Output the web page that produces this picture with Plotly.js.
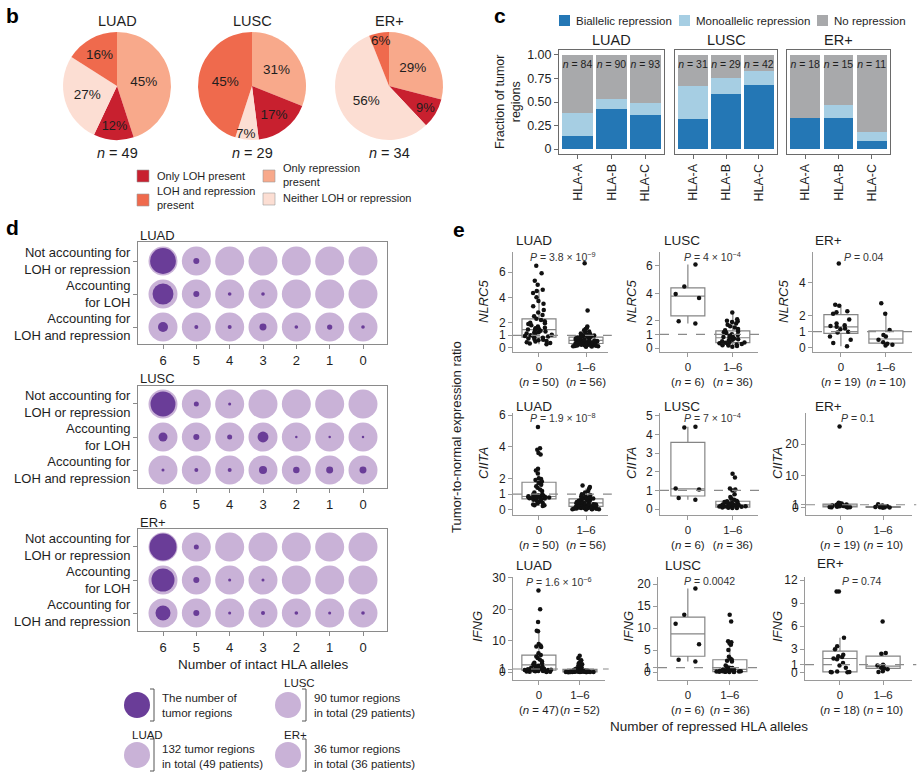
<!DOCTYPE html>
<html><head><meta charset="utf-8">
<script src="https://cdn.plot.ly/plotly-3.0.1.min.js"></script>
<style>body{margin:0;background:#fff}#chart{width:921px;height:775px}</style>
</head><body><div id="chart"></div>
<script>
// ================= DATA =================
// panel b : pies
const pieLabels = ['Only repression present','Only LOH present','Neither LOH or repression','LOH and repression present'];
const pieCohorts = ['LUAD','LUSC','ER+'];
const pieLUAD = [45,12,27,16];
const pieLUSC = [31,17,7,45];
const pieER = [29,9,56,6];
const piePatients = [49,29,34];

// panel c : stacked bars
const hlaGenes = ['HLA-A','HLA-B','HLA-C'];
const barLUAD_bi = [0.14,0.43,0.36], barLUAD_mono = [0.24,0.10,0.13], barLUAD_no = [0.62,0.47,0.51], barLUAD_n = [84,90,93];
const barLUSC_bi = [0.32,0.58,0.68], barLUSC_mono = [0.35,0.17,0.15], barLUSC_no = [0.33,0.25,0.17], barLUSC_n = [31,29,42];
const barER_bi = [0.33,0.33,0.09], barER_mono = [0.00,0.14,0.09], barER_no = [0.67,0.53,0.82], barER_n = [18,15,11];

// panel d : % of tumor regions per number of intact HLA alleles
const dotCols = ['6','5','4','3','2','1','0'];
const dotRows = ['Not accounting for<br>LOH or repression','Accounting<br>for LOH','Accounting for<br>LOH and repression'];
const dotLUAD_not = [79,4.3,0,0,0,0,0], dotLUAD_loh = [52,4.3,1.6,1.6,0,0,0], dotLUAD_both = [12,1.9,1.9,5.8,1.6,3.3,1.6];
const dotLUSC_not = [74,3,1.1,0,0,0,0], dotLUSC_loh = [9.6,4.3,3,14,0.75,0.75,0.75], dotLUSC_both = [1.1,1.9,1.9,7.6,5,5.8,5.8];
const dotER_not = [87,3,0,0,0,0,0], dotER_loh = [63,4.3,1.1,1.1,0,0,0], dotER_both = [27,4.3,1.1,1.9,1.6,1.1,1.6];

// panel e : tumor-to-normal expression ratios
const groups = ['0','1–6'];
const nlrc5_LUAD_0 = [6.5,5.9,5.3,5.0,4.6,4.5,4.35,4.0,3.7,3.5,3.3,3.0,2.8,2.6,2.5,2.3,2.2,2.1,2.0,1.95,1.9,1.8,1.7,1.6,1.55,1.5,1.45,1.4,1.35,1.3,1.25,1.2,1.15,1.1,1.05,1.0,0.95,0.9,0.85,0.8,0.75,0.7,0.65,0.6,0.55,0.5,0.45,0.4,0.35,0.3];
const nlrc5_LUAD_1 = [6.7,2.95,1.7,1.6,1.5,1.4,1.3,1.2,1.15,1.1,1.05,1.0,0.98,0.95,0.92,0.9,0.88,0.85,0.82,0.8,0.78,0.75,0.72,0.7,0.68,0.66,0.64,0.62,0.6,0.58,0.56,0.54,0.52,0.5,0.48,0.46,0.44,0.42,0.4,0.38,0.36,0.34,0.32,0.3,0.28,0.26,0.24,0.22,0.2,0.18,0.16,0.15,0.14,0.13,0.12,0.1];
const nlrc5_LUSC_0 = [6.1,4.5,3.95,3.65,1.95,1.8];
const nlrc5_LUSC_1 = [2.6,2.1,2.0,1.95,1.9,1.8,1.7,1.6,1.5,1.4,1.3,1.2,1.15,1.1,1.0,0.95,0.9,0.85,0.8,0.75,0.7,0.65,0.6,0.55,0.5,0.45,0.4,0.38,0.35,0.3,0.28,0.25,0.2,0.18,0.15,0.1];
const nlrc5_ER_0 = [5.2,2.65,2.6,2.25,2.2,2.1,1.75,1.5,1.4,1.35,1.3,1.2,1.15,1.0,0.95,0.7,0.5,0.3,0.1];
const nlrc5_ER_1 = [2.75,2.1,1.1,0.8,0.7,0.5,0.35,0.25,0.2,0.15];
const ciita_LUAD_0 = [5.25,3.9,3.8,3.6,3.5,2.6,2.5,2.3,2.0,1.95,1.9,1.8,1.7,1.6,1.5,1.4,1.3,1.2,1.1,1.0,0.98,0.95,0.93,0.9,0.9,0.88,0.87,0.86,0.85,0.84,0.83,0.82,0.8,0.8,0.78,0.76,0.74,0.72,0.7,0.68,0.65,0.6,0.55,0.5,0.45,0.4,0.35,0.3,0.3,0.25];
const ciita_LUAD_1 = [1.55,1.45,1.35,1.2,1.1,1.0,0.95,0.9,0.85,0.8,0.78,0.75,0.72,0.7,0.68,0.65,0.62,0.6,0.58,0.55,0.52,0.5,0.48,0.46,0.45,0.44,0.42,0.4,0.38,0.36,0.35,0.34,0.32,0.3,0.28,0.26,0.25,0.24,0.22,0.2,0.19,0.18,0.16,0.15,0.14,0.12,0.11,0.1,0.09,0.08,0.07,0.06,0.05,0.05,0.04,0.03];
const ciita_LUSC_0 = [4.42,4.38,1.1,1.05,0.6,0.5];
const ciita_LUSC_1 = [1.9,1.7,1.1,1.05,1.0,0.8,0.65,0.55,0.5,0.45,0.42,0.4,0.38,0.35,0.32,0.3,0.28,0.26,0.25,0.24,0.22,0.21,0.2,0.19,0.18,0.17,0.15,0.14,0.13,0.12,0.11,0.1,0.08,0.07,0.06,0.05];
const ciita_ER_0 = [25.5,1.6,1.5,1.4,1.3,1.2,1.1,1.0,0.9,0.8,0.7,0.6,0.5,0.4,0.35,0.3,0.25,0.2,0.15];
const ciita_ER_1 = [1.2,0.8,0.5,0.4,0.35,0.3,0.25,0.2,0.15,0.1];
const ifng_LUAD_0 = [26,20,16,13.2,13,9,8.5,8.2,8,6,5.5,5,4.5,4,3.5,3,2.8,2.5,2.2,2,1.8,1.6,1.4,1.2,1.0,0.9,0.8,0.7,0.6,0.5,0.45,0.4,0.35,0.3,0.25,0.2,0.15,0.1,1.1,1.3,1.5,0.55,0.65,0.75,0.85,0.95,0.05];
const ifng_LUAD_1 = [5.2,4.5,3.8,3.2,2.8,2.5,2.2,2.0,1.8,1.6,1.4,1.2,1.1,1.0,0.9,0.85,0.8,0.75,0.7,0.65,0.6,0.55,0.5,0.45,0.42,0.4,0.38,0.35,0.32,0.3,0.28,0.25,0.22,0.2,0.18,0.16,0.15,0.14,0.12,0.1,0.09,0.08,0.07,0.06,0.05,0.04,0.03,0.02,0.02,0.01,0.01,0.0];
const ifng_LUSC_0 = [19,13,11,6.3,2.8,2.4];
const ifng_LUSC_1 = [13,11.5,7,6.8,6.5,6.2,5,3.5,3.0,2.8,2.6,2.4,1.5,1.2,1.0,0.9,0.8,0.7,0.6,0.55,0.5,0.45,0.4,0.35,0.3,0.25,0.2,0.18,0.15,0.12,0.1,0.08,0.06,0.05,0.03,0.02];
const ifng_ER_0 = [10.5,10.5,4.5,3.4,3.0,2.3,2.1,2.0,1.8,1.7,1.2,0.9,0.6,0.1,0.05,0.05,0.02,0.0];
const ifng_ER_1 = [6.6,2.5,2.4,1.0,0.9,0.6,0.5,0.4,0.15,0.05];
// box statistics per group: [lower whisker, q1, median, q3, upper whisker]
const nlrc5_LUAD_box = [[0.3,0.85,1.45,2.3,4.6],[0.1,0.35,0.6,0.85,1.55]];
const nlrc5_LUSC_box = [[1.8,2.35,3.8,4.4,6.1],[0.1,0.4,0.75,1.25,2.6]];
const nlrc5_ER_box = [[0.1,0.9,1.3,2.05,2.65],[0.15,0.3,0.55,1.05,2.1]];
const ciita_LUAD_box = [[0.25,0.7,0.85,1.75,2.6],[0.03,0.22,0.45,0.7,1.35]];
const ciita_LUSC_box = [[0.5,0.7,1.08,3.58,4.42],[0.05,0.1,0.22,0.42,0.8]];
const ciita_ER_box = [[0.15,0.3,0.6,1.2,1.6],[0.1,0.15,0.3,0.4,0.5]];
const ifng_LUAD_box = [[0.05,0.6,2.3,5.4,13],[0,0.1,0.4,0.9,2.0]];
const ifng_LUSC_box = [[2.4,3.6,8.7,12.5,19],[0.02,0.1,0.6,2.8,6.5]];
const ifng_ER_box = [[0,0.05,1.8,2.75,4.5],[0.05,0.5,0.8,2.1,2.5]];
const nNLRC5 = [[50,56],[6,36],[19,10]];
const nCIITA = [[50,56],[6,36],[19,10]];
const nIFNG = [[47,52],[6,36],[18,10]];

// ================= BUILD =================
const W = 921, H = 775;
const X = px => px / W, Y = py => 1 - py / H;
const FONT = 'Liberation Sans, Arial, Helvetica, sans-serif';
const TXT = '#1e1e1e';
const traces = [], annotations = [], shapes = [];
const layout = {
  width: W, height: H, margin: {l:0,r:0,t:0,b:0},
  paper_bgcolor: '#fff', plot_bgcolor: 'rgba(0,0,0,0)',
  font: {family: FONT, size: 12, color: TXT},
  showlegend: false, barmode: 'stack', bargap: 0.1, boxmode: 'overlay',
  annotations, shapes
};
const ax = i => (i === 1 ? '' : String(i));
function setAxes(i, xa, ya) {
  layout['xaxis' + ax(i)] = Object.assign({anchor: 'y' + ax(i), fixedrange: true, showgrid: false, zeroline: false}, xa);
  layout['yaxis' + ax(i)] = Object.assign({anchor: 'x' + ax(i), fixedrange: true, showgrid: false, zeroline: false}, ya);
}
function ann(text, px, py, o) {
  o = o || {};
  const f = Object.assign({size: 12, color: TXT, family: FONT}, o.font || {});
  annotations.push(Object.assign({text, x: X(px), y: Y(py), xref: 'paper', yref: 'paper', showarrow: false,
    xanchor: 'center', yanchor: 'middle', align: 'center'}, o, {font: f}));
}
function rect(x0, y0, x1, y1, color, line) {
  shapes.push({type: 'rect', xref: 'paper', yref: 'paper', x0: X(x0), x1: X(x1), y0: Y(y1), y1: Y(y0),
    fillcolor: color, line: line || {width: 0}});
}

// panel letters
ann('<b>b</b>', 12, 16, {font: {size: 21, color: '#000'}});
ann('<b>c</b>', 500, 16, {font: {size: 21, color: '#000'}});
ann('<b>d</b>', 12, 227, {font: {size: 21, color: '#000'}});
ann('<b>e</b>', 459, 230, {font: {size: 21, color: '#000'}});

// ---------- panel b ----------
const pieColors = ['#F8A98B','#C8202F','#FCDED3','#EF6A4D'];
const pieVals = [pieLUAD, pieLUSC, pieER];
const pieCx = [117, 252, 389];
// small slices get their label placed by hand (as in the original figure)
const pieSmallLabel = [null, {slice: 2, x: 246, y: 133}, {slice: 3, x: 381, y: 40}];
pieVals.forEach((v, k) => {
  const sm = pieSmallLabel[k];
  traces.push({type: 'pie', values: v, labels: pieLabels, sort: false, direction: 'clockwise', rotation: 0,
    marker: {colors: pieColors, line: {width: 0}},
    text: v.map((x, j) => (sm && sm.slice === j) ? '' : x + '%'), textinfo: 'text', textposition: 'inside',
    insidetextorientation: 'horizontal', textfont: {size: 13.5, color: TXT, family: FONT},
    domain: {x: [X(pieCx[k] - 54), X(pieCx[k] + 54)], y: [Y(140), Y(32)]}, hoverinfo: 'skip', showlegend: false});
  if (sm) ann(v[sm.slice] + '%', sm.x, sm.y, {font: {size: 13.5}});
  ann(pieCohorts[k], pieCx[k], 21, {font: {size: 14.5}});
  ann('<i>n</i> = ' + piePatients[k], pieCx[k], 153, {font: {size: 14.5}});
});
const pieLeg = [
  [1, 137, 170, 'Only LOH present', 176],
  [3, 137, 194, 'LOH and repression<br>present', 198],
  [0, 263, 170, 'Only repression<br>present', 175],
  [2, 263, 193, 'Neither LOH or repression', 198]
];
pieLeg.forEach(l => {
  rect(l[1], l[2], l[1] + 12, l[2] + 12, pieColors[l[0]], {width: 0.6, color: '#9a9a9a'});
  ann(l[3], l[1] + 18, l[4], {xanchor: 'left', align: 'left', font: {size: 11}});
});

// ---------- panel c ----------
const barCols = {bi: '#2477B5', mono: '#A6CEE3', no: '#A8A9AB'};
const barSets = [
  [barLUAD_bi, barLUAD_mono, barLUAD_no, barLUAD_n, 559, 664, 'LUAD'],
  [barLUSC_bi, barLUSC_mono, barLUSC_no, barLUSC_n, 675, 777, 'LUSC'],
  [barER_bi, barER_mono, barER_no, barER_n, 787, 890, 'ER+']
];
barSets.forEach((s, k) => {
  const i = k + 1, xs = 'x' + ax(i), ys = 'y' + ax(i);
  setAxes(i,
    {domain: [X(s[4]), X(s[5])], type: 'category', categoryarray: hlaGenes, range: [-0.55, 2.55],
      showline: true, mirror: true, linecolor: '#6a6a6a', linewidth: 1, ticks: 'outside', ticklen: 4,
      tickcolor: '#6a6a6a', tickangle: -90, tickfont: {size: 12.5}},
    {domain: [Y(154), Y(50)], range: [-0.053, 1.053], showline: true, mirror: true, linecolor: '#6a6a6a',
      linewidth: 1, ticks: k === 0 ? 'outside' : '', ticklen: 4, tickcolor: '#6a6a6a',
      showticklabels: k === 0, tickmode: 'array', tickvals: [0, 0.25, 0.5, 0.75, 1],
      ticktext: ['0', '0.25', '0.50', '0.75', '1.00'], tickfont: {size: 12.5}});
  traces.push({type: 'bar', x: hlaGenes, y: s[0], xaxis: xs, yaxis: ys, marker: {color: barCols.bi, line: {width: 0}}, hoverinfo: 'skip'});
  traces.push({type: 'bar', x: hlaGenes, y: s[1], xaxis: xs, yaxis: ys, marker: {color: barCols.mono, line: {width: 0}}, hoverinfo: 'skip'});
  traces.push({type: 'bar', x: hlaGenes, y: s[2], xaxis: xs, yaxis: ys, marker: {color: barCols.no, line: {width: 0}},
    text: s[3].map(n => '<i>n</i> = ' + n), textposition: 'inside', insidetextanchor: 'end', constraintext: 'none',
    textangle: 0, textfont: {size: 10.5, color: TXT, family: FONT}, hoverinfo: 'skip'});
  ann(s[6], (s[4] + s[5]) / 2, 40, {font: {size: 14.5}});
});
ann('Fraction of tumor<br>regions', 508, 102, {textangle: -90, font: {size: 12.5}});
[[559, 'Biallelic repression', barCols.bi], [679, 'Monoallelic repression', barCols.mono], [817, 'No repression', barCols.no]]
  .forEach(l => { rect(l[0], 15, l[0] + 11, 26, l[2]); ann(l[1], l[0] + 15, 20.5, {xanchor: 'left', font: {size: 11.5}}); });

// ---------- panel d ----------
const BG = 29;
const dotSets = [
  [[dotLUAD_not, dotLUAD_loh, dotLUAD_both], 242, 344, [2.515, -0.576], 'LUAD', 235],
  [[dotLUSC_not, dotLUSC_loh, dotLUSC_both], 386, 488, [2.545, -0.545], 'LUSC', 378],
  [[dotER_not, dotER_loh, dotER_both], 529, 631, [2.545, -0.545], 'ER+', 522]
];
dotSets.forEach((s, k) => {
  const i = k + 4, xs = 'x' + ax(i), ys = 'y' + ax(i);
  setAxes(i,
    {domain: [X(138), X(387)], type: 'category', categoryarray: dotCols, range: [-0.75, 6.72], showline: true, mirror: true,
      linecolor: '#8a8a8a', linewidth: 1, ticks: 'outside', ticklen: 4, tickcolor: '#8a8a8a', tickfont: {size: 13}},
    {domain: [Y(s[2]), Y(s[1])], type: 'category', categoryarray: dotRows, range: s[3], showline: true, mirror: true,
      linecolor: '#8a8a8a', linewidth: 1, ticks: 'outside', ticklen: 4, tickcolor: '#8a8a8a', tickfont: {size: 13}});
  const xsArr = [], ysArr = [], sz = [];
  s[0].forEach((row, r) => row.forEach((v, c) => { xsArr.push(dotCols[c]); ysArr.push(dotRows[r]); sz.push(BG * Math.sqrt(v / 100)); }));
  traces.push({type: 'scatter', mode: 'markers', x: xsArr, y: ysArr, xaxis: xs, yaxis: ys,
    marker: {size: BG, color: '#C9B2D7', opacity: 1, line: {width: 0}}, hoverinfo: 'skip'});
  traces.push({type: 'scatter', mode: 'markers', x: xsArr, y: ysArr, xaxis: xs, yaxis: ys,
    marker: {size: sz, sizemode: 'diameter', color: '#6A3D98', opacity: 1, line: {width: 0}}, hoverinfo: 'skip'});
  ann(s[4], 138, s[5], {xanchor: 'left', font: {size: 13}});
});
ann('Number of intact HLA alleles', 263, 664, {font: {size: 13.5}});
// legend of panel d
shapes.push({type: 'circle', xref: 'paper', yref: 'paper', x0: X(124), x1: X(150), y0: Y(718), y1: Y(692), fillcolor: '#6A3D98', line: {width: 0}});
[[137, 755], [288, 705], [288, 755]].forEach(c => shapes.push({type: 'circle', xref: 'paper', yref: 'paper',
  x0: X(c[0] - 13), x1: X(c[0] + 13), y0: Y(c[1] + 13), y1: Y(c[1] - 13), fillcolor: '#C9B2D7', line: {width: 0}}));
[[154, 705], [154, 755], [306, 705], [306, 755]].forEach(b => shapes.push({type: 'path', xref: 'paper', yref: 'paper',
  path: `M ${X(b[0] - 4)},${Y(b[1] - 16)} L ${X(b[0])},${Y(b[1] - 16)} L ${X(b[0])},${Y(b[1] + 16)} L ${X(b[0] - 4)},${Y(b[1] + 16)}`,
  line: {color: '#555', width: 1}}));
ann('The number of<br>tumor regions', 160, 705, {xanchor: 'left', align: 'left', font: {size: 11.5}});
ann('132 tumor regions<br>in total (49 patients)', 160, 756, {xanchor: 'left', align: 'left', font: {size: 11.5}});
ann('90 tumor regions<br>in total (29 patients)', 312, 705, {xanchor: 'left', align: 'left', font: {size: 11.5}});
ann('36 tumor regions<br>in total (36 patients)', 312, 756, {xanchor: 'left', align: 'left', font: {size: 11.5}});
ann('LUAD', 130, 735, {xanchor: 'left', font: {size: 11.5}});
ann('LUSC', 282, 683, {xanchor: 'left', font: {size: 11.5}});
ann('ER+', 282, 735, {xanchor: 'left', font: {size: 11.5}});

// ---------- panel e ----------
const ePanels = [
  {gene:'NLRC5', co:'LUAD', v0:nlrc5_LUAD_0, v1:nlrc5_LUAD_1, box:nlrc5_LUAD_box, n:nNLRC5[0], p:'3.8 × 10<sup>−9</sup>', ticks:[0,1,2,4,6],
   xd:[513,608], yd:[252,352], yr:[-0.32,7.58], xr:[-0.553,1.468], sp:47, lx:483, ly:302, tx:514, ty:240, px:563, py:257},
  {gene:'NLRC5', co:'LUSC', v0:nlrc5_LUSC_0, v1:nlrc5_LUSC_1, box:nlrc5_LUSC_box, n:nNLRC5[1], p:'4 × 10<sup>−4</sup>', ticks:[0,1,2,4,6],
   xd:[660,758], yd:[252,352], yr:[-0.29,7.02], xr:[-0.62,1.56], sp:45, lx:631, ly:302, tx:662, ty:240, px:712, py:257},
  {gene:'NLRC5', co:'ER+', v0:nlrc5_ER_0, v1:nlrc5_ER_1, box:nlrc5_ER_box, n:nNLRC5[2], p:'0.04', ticks:[0,1,2,4],
   xd:[813,912], yd:[252,352], yr:[-0.25,5.9], xr:[-0.62,1.58], sp:45, lx:783, ly:302, tx:813, ty:240, px:864, py:257},
  {gene:'CIITA', co:'LUAD', v0:ciita_LUAD_0, v1:ciita_LUAD_1, box:ciita_LUAD_box, n:nCIITA[0], p:'1.9 × 10<sup>−8</sup>', ticks:[0,1,2,4,6],
   xd:[513,608], yd:[413,515], yr:[-0.32,6.13], xr:[-0.553,1.468], sp:47, lx:483, ly:463, tx:514, ty:406, px:563, py:418},
  {gene:'CIITA', co:'LUSC', v0:ciita_LUSC_0, v1:ciita_LUSC_1, box:ciita_LUSC_box, n:nCIITA[1], p:'7 × 10<sup>−4</sup>', ticks:[0,1,2,3,4,5],
   xd:[660,758], yd:[413,515], yr:[-0.32,5.16], xr:[-0.62,1.56], sp:45, lx:631, ly:463, tx:662, ty:406, px:712, py:418},
  {gene:'CIITA', co:'ER+', v0:ciita_ER_0, v1:ciita_ER_1, box:ciita_ER_box, n:nCIITA[2], p:'0.1', ticks:[0,1,10,20],
   xd:[806,912], yd:[413,515], yr:[-2.2,29.7], xr:[-0.79,1.67], sp:43, lx:777, ly:463, tx:813, ty:406, px:858, py:418},
  {gene:'IFNG', co:'LUAD', v0:ifng_LUAD_0, v1:ifng_LUAD_1, box:ifng_LUAD_box, n:nIFNG[0], p:'1.6 × 10<sup>−6</sup>', ticks:[0,1,10,20,30],
   xd:[513,605], yd:[577,680], yr:[-2.5,30.3], xr:[-0.63,1.61], sp:41, lx:477, ly:627, tx:514, ty:565, px:559, py:581},
  {gene:'IFNG', co:'LUSC', v0:ifng_LUSC_0, v1:ifng_LUSC_1, box:ifng_LUSC_box, n:nIFNG[1], p:'0.0042', ticks:[0,1,5,10,15,20],
   xd:[658,758], yd:[577,680], yr:[-1.8,21.6], xr:[-0.71,1.67], sp:42, lx:628, ly:627, tx:663, ty:565, px:709, py:581},
  {gene:'IFNG', co:'ER+', v0:ifng_ER_0, v1:ifng_ER_1, box:ifng_ER_box, n:nIFNG[2], p:'0.74', ticks:[0,1,3,6,9,12],
   xd:[805,912], yd:[577,680], yr:[-1.0,12.4], xr:[-0.81,1.67], sp:43, lx:777, ly:627, tx:815, ty:563, px:862, py:581}
];
const AXC = '#9a9a9a';
ePanels.forEach((p, k) => {
  const i = k + 7, xs = 'x' + ax(i), ys = 'y' + ax(i);
  const bw = 34 / p.sp;
  setAxes(i,
    {domain: [X(p.xd[0]), X(p.xd[1])], type: 'category', categoryarray: groups, range: p.xr, showline: true,
      linecolor: AXC, linewidth: 1, ticks: 'outside', ticklen: 4, tickcolor: AXC, tickmode: 'array', tickvals: groups,
      ticktext: groups.map((g, j) => g + '<br>(<i>n</i> = ' + p.n[j] + ')'), tickangle: 0, tickfont: {size: 11.5}},
    {domain: [Y(p.yd[1]), Y(p.yd[0])], range: p.yr, showline: true, linecolor: AXC, linewidth: 1, ticks: 'outside',
      ticklen: 4, tickcolor: AXC, tickmode: 'array', tickvals: p.ticks, tickfont: {size: 12}});
  traces.push({type: 'box', xaxis: xs, yaxis: ys, x: groups,
    lowerfence: p.box.map(b => b[0]), q1: p.box.map(b => b[1]), median: p.box.map(b => b[2]),
    q3: p.box.map(b => b[3]), upperfence: p.box.map(b => b[4]),
    boxpoints: false, width: bw, whiskerwidth: 0, fillcolor: 'rgba(255,255,255,0)',
    line: {color: '#858585', width: 1.2}, hoverinfo: 'skip'});
  traces.push({type: 'box', xaxis: xs, yaxis: ys,
    x: p.v0.map(() => groups[0]).concat(p.v1.map(() => groups[1])), y: p.v0.concat(p.v1),
    boxpoints: 'all', jitter: 0.85, pointpos: 0, width: bw, fillcolor: 'rgba(0,0,0,0)',
    line: {color: 'rgba(0,0,0,0)', width: 0}, marker: {color: '#111', size: 4.5, opacity: 1}, hoverinfo: 'skip'});
  shapes.push({type: 'line', xref: xs + ' domain', yref: ys, x0: 0, x1: 1.04, y0: 1, y1: 1,
    line: {color: '#8a8a8a', width: 1.2, dash: 'dash'}});
  ann('<i>' + p.gene + '</i>', p.lx, p.ly, {textangle: -90, font: {size: 13}});
  ann(p.co, p.tx, p.ty, {xanchor: 'left', font: {size: 13.5}});
  ann('<i>P</i> = ' + p.p, p.px, p.py, {font: {size: 10.5, color: '#333'}});
});
ann('Tumor-to-normal expression ratio', 456, 437, {textangle: -90, font: {size: 13}});
ann('Number of repressed HLA alleles', 709, 726, {font: {size: 13.5}});

Plotly.newPlot('chart', traces, layout, {staticPlot: true, displayModeBar: false});
</script>
</body></html>
